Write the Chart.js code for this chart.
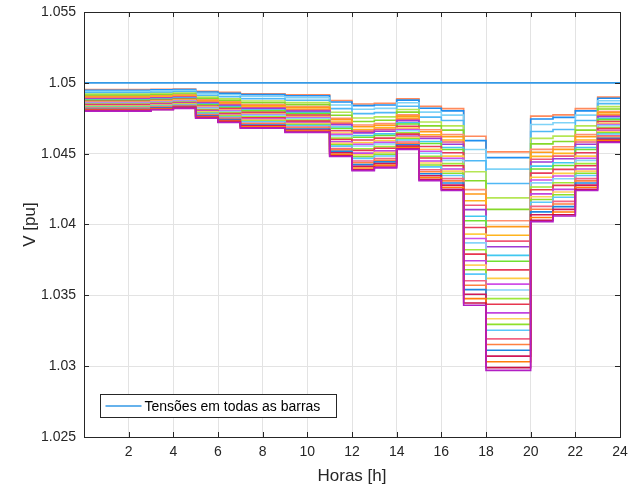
<!DOCTYPE html>
<html>
<head>
<meta charset="utf-8">
<script src="https://cdn.jsdelivr.net/npm/chart.js@4.4.1/dist/chart.umd.min.js"></script>
<style>
  html, body { margin: 0; padding: 0; background: #ffffff; }
  #wrap { width: 639px; height: 490px; }
</style>
</head>
<body>
<div id="wrap"><canvas id="c" width="639" height="490"></canvas></div>
<script>
// ---- Data ----
const hours = [0,1,2,3,4,5,6,7,8,9,10,11,12,13,14,15,16,17,18,19,20,21,22,23,24];
const xTicks = [2,4,6,8,10,12,14,16,18,20,22,24];
const yTicks = [1.025,1.03,1.035,1.04,1.045,1.05,1.055];
const legendLabel = 'Tensões em todas as barras';

const busSlack = [1.05,1.05,1.05,1.05,1.05,1.05,1.05,1.05,1.05,1.05,1.05,1.05,1.05,1.05,1.05,1.05,1.05,1.05,1.05,1.05,1.05,1.05,1.05,1.05,1.05];
const bus02 = [1.04952,1.04952,1.04952,1.04954,1.04957,1.04940,1.04933,1.04923,1.04923,1.04916,1.04916,1.04875,1.04851,1.04856,1.04887,1.04834,1.04818,1.04623,1.04513,1.04513,1.04765,1.04774,1.04818,1.04899,1.04899];
const bus03 = [1.04948,1.04948,1.04948,1.04951,1.04953,1.04935,1.04927,1.04917,1.04917,1.04909,1.04909,1.04865,1.04839,1.04844,1.04878,1.04821,1.04802,1.04592,1.04472,1.04472,1.04745,1.04756,1.04802,1.04891,1.04891];
const bus04 = [1.04940,1.04940,1.04940,1.04943,1.04946,1.04925,1.04916,1.04904,1.04904,1.04895,1.04895,1.04844,1.04814,1.04820,1.04859,1.04793,1.04772,1.04529,1.04391,1.04391,1.04706,1.04718,1.04772,1.04874,1.04874];
const bus05 = [1.04930,1.04930,1.04930,1.04933,1.04937,1.04912,1.04902,1.04888,1.04888,1.04877,1.04877,1.04818,1.04783,1.04790,1.04835,1.04758,1.04734,1.04450,1.04289,1.04289,1.04657,1.04671,1.04734,1.04853,1.04853];
const bus06 = [1.04920,1.04920,1.04920,1.04924,1.04928,1.04900,1.04888,1.04872,1.04872,1.04860,1.04860,1.04792,1.04752,1.04760,1.04812,1.04724,1.04696,1.04372,1.04188,1.04188,1.04608,1.04624,1.04696,1.04832,1.04832];
const bus07 = [1.04912,1.04912,1.04912,1.04916,1.04921,1.04890,1.04877,1.04859,1.04859,1.04846,1.04846,1.04771,1.04727,1.04736,1.04793,1.04696,1.04666,1.04309,1.04107,1.04107,1.04569,1.04586,1.04666,1.04815,1.04815];
const bus08 = [1.04904,1.04904,1.04904,1.04909,1.04914,1.04880,1.04866,1.04846,1.04846,1.04832,1.04832,1.04750,1.04702,1.04712,1.04774,1.04669,1.04635,1.04246,1.04026,1.04026,1.04530,1.04549,1.04635,1.04798,1.04798];
const bus09 = [1.04900,1.04900,1.04900,1.04905,1.04910,1.04875,1.04860,1.04840,1.04840,1.04825,1.04825,1.04740,1.04690,1.04700,1.04765,1.04655,1.04620,1.04215,1.03985,1.03985,1.04510,1.04530,1.04620,1.04790,1.04790];
const bus10 = [1.04894,1.04894,1.04894,1.04899,1.04905,1.04867,1.04852,1.04830,1.04830,1.04814,1.04814,1.04724,1.04671,1.04682,1.04751,1.04634,1.04597,1.04168,1.03924,1.03924,1.04481,1.04502,1.04597,1.04777,1.04777];
const bus11 = [1.04890,1.04890,1.04890,1.04895,1.04901,1.04862,1.04846,1.04824,1.04824,1.04807,1.04807,1.04714,1.04659,1.04670,1.04741,1.04620,1.04582,1.04136,1.03883,1.03883,1.04461,1.04483,1.04582,1.04769,1.04769];
const bus12 = [1.04886,1.04886,1.04886,1.04892,1.04897,1.04857,1.04840,1.04818,1.04818,1.04800,1.04800,1.04704,1.04647,1.04658,1.04732,1.04607,1.04567,1.04105,1.03843,1.03843,1.04441,1.04464,1.04567,1.04761,1.04761];
const bus13 = [1.04880,1.04880,1.04880,1.04886,1.04892,1.04850,1.04832,1.04808,1.04808,1.04790,1.04790,1.04688,1.04628,1.04640,1.04718,1.04586,1.04544,1.04058,1.03782,1.03782,1.04412,1.04436,1.04544,1.04748,1.04748];
const bus14 = [1.04876,1.04876,1.04876,1.04882,1.04888,1.04845,1.04826,1.04802,1.04802,1.04783,1.04783,1.04678,1.04616,1.04628,1.04709,1.04572,1.04529,1.04027,1.03741,1.03741,1.04392,1.04417,1.04529,1.04740,1.04740];
const bus15 = [1.04870,1.04870,1.04870,1.04876,1.04883,1.04837,1.04818,1.04792,1.04792,1.04772,1.04772,1.04662,1.04597,1.04610,1.04694,1.04551,1.04506,1.03979,1.03680,1.03680,1.04363,1.04389,1.04506,1.04727,1.04727];
const bus16 = [1.04864,1.04864,1.04864,1.04871,1.04878,1.04830,1.04810,1.04782,1.04782,1.04762,1.04762,1.04646,1.04578,1.04592,1.04680,1.04531,1.04483,1.03932,1.03620,1.03620,1.04334,1.04361,1.04483,1.04714,1.04714];
const bus17 = [1.04860,1.04860,1.04860,1.04867,1.04874,1.04825,1.04804,1.04776,1.04776,1.04755,1.04755,1.04636,1.04566,1.04580,1.04671,1.04517,1.04468,1.03901,1.03579,1.03579,1.04314,1.04342,1.04468,1.04706,1.04706];
const bus18 = [1.04856,1.04856,1.04856,1.04863,1.04870,1.04820,1.04798,1.04770,1.04770,1.04748,1.04748,1.04626,1.04554,1.04568,1.04662,1.04503,1.04453,1.03870,1.03538,1.03538,1.04294,1.04323,1.04453,1.04698,1.04698];
const bus19 = [1.04850,1.04850,1.04850,1.04857,1.04865,1.04812,1.04790,1.04760,1.04760,1.04737,1.04737,1.04610,1.04535,1.04550,1.04647,1.04482,1.04430,1.03822,1.03477,1.03477,1.04265,1.04295,1.04430,1.04685,1.04685];
const bus20 = [1.04846,1.04846,1.04846,1.04854,1.04861,1.04807,1.04784,1.04754,1.04754,1.04730,1.04730,1.04600,1.04523,1.04538,1.04638,1.04469,1.04415,1.03791,1.03437,1.03437,1.04245,1.04276,1.04415,1.04677,1.04677];
const bus21 = [1.04840,1.04840,1.04840,1.04848,1.04856,1.04800,1.04776,1.04744,1.04744,1.04720,1.04720,1.04584,1.04504,1.04520,1.04624,1.04448,1.04392,1.03744,1.03376,1.03376,1.04216,1.04248,1.04392,1.04664,1.04664];
const bus22 = [1.04836,1.04836,1.04836,1.04844,1.04852,1.04795,1.04770,1.04738,1.04738,1.04713,1.04713,1.04574,1.04492,1.04508,1.04615,1.04434,1.04377,1.03713,1.03335,1.03335,1.04196,1.04229,1.04377,1.04656,1.04656];
const bus23 = [1.04832,1.04832,1.04832,1.04840,1.04849,1.04790,1.04765,1.04731,1.04731,1.04706,1.04706,1.04563,1.04479,1.04496,1.04605,1.04420,1.04362,1.03681,1.03295,1.03295,1.04177,1.04210,1.04362,1.04647,1.04647];
const bus24 = [1.04828,1.04828,1.04828,1.04837,1.04845,1.04785,1.04759,1.04725,1.04725,1.04699,1.04699,1.04553,1.04467,1.04484,1.04596,1.04407,1.04346,1.03650,1.03254,1.03254,1.04157,1.04192,1.04346,1.04639,1.04639];
const bus25 = [1.04822,1.04822,1.04822,1.04831,1.04840,1.04777,1.04751,1.04715,1.04715,1.04688,1.04688,1.04537,1.04448,1.04466,1.04582,1.04386,1.04324,1.03603,1.03193,1.03193,1.04128,1.04163,1.04324,1.04626,1.04626];
const bus26 = [1.04818,1.04818,1.04818,1.04827,1.04836,1.04772,1.04745,1.04709,1.04709,1.04681,1.04681,1.04527,1.04436,1.04454,1.04572,1.04372,1.04308,1.03571,1.03153,1.03153,1.04108,1.04145,1.04308,1.04618,1.04618];
const bus27 = [1.04814,1.04814,1.04814,1.04823,1.04833,1.04767,1.04740,1.04702,1.04702,1.04674,1.04674,1.04516,1.04423,1.04442,1.04563,1.04358,1.04293,1.03540,1.03112,1.03112,1.04089,1.04126,1.04293,1.04609,1.04609];
const bus28 = [1.04810,1.04810,1.04810,1.04819,1.04829,1.04762,1.04734,1.04696,1.04696,1.04667,1.04667,1.04506,1.04411,1.04430,1.04553,1.04344,1.04278,1.03508,1.03071,1.03071,1.04069,1.04107,1.04278,1.04601,1.04601];
const bus29 = [1.04806,1.04806,1.04806,1.04816,1.04825,1.04757,1.04728,1.04690,1.04690,1.04660,1.04660,1.04496,1.04399,1.04418,1.04544,1.04331,1.04263,1.03477,1.03031,1.03031,1.04049,1.04088,1.04263,1.04593,1.04593];
const bus30 = [1.04802,1.04802,1.04802,1.04812,1.04822,1.04752,1.04723,1.04683,1.04683,1.04653,1.04653,1.04485,1.04386,1.04406,1.04535,1.04317,1.04248,1.03446,1.02990,1.02990,1.04030,1.04069,1.04248,1.04584,1.04584];
const bus31 = [1.04800,1.04800,1.04800,1.04810,1.04820,1.04750,1.04720,1.04680,1.04680,1.04650,1.04650,1.04480,1.04380,1.04400,1.04530,1.04310,1.04240,1.03430,1.02970,1.02970,1.04020,1.04060,1.04240,1.04580,1.04580];

const busSeries = [busSlack, bus02, bus03, bus04, bus05, bus06, bus07, bus08, bus09, bus10,
                   bus11, bus12, bus13, bus14, bus15, bus16, bus17, bus18, bus19, bus20,
                   bus21, bus22, bus23, bus24, bus25, bus26, bus27, bus28, bus29, bus30, bus31];
const busColors = ['#3399e6',
  '#ff8a5c', '#1f8ff0', '#7fd3f7', '#4fb8f5', '#b5e655', '#86d82a', '#ff8f70', '#ff9a1a',
  '#ffb41e', '#f05a78', '#9d3bd6', '#40c8f0', '#6fe030', '#e83c5a', '#ffcc44', '#d04ee8',
  '#86d4fa', '#9ee83a', '#e8364f', '#c244e0', '#ffd060', '#8ee02a', '#5ac8fa', '#f26485',
  '#ff8040', '#1e86e0', '#d01858', '#ff7d0a', '#c8104a', '#b21fc4'];

// ---- Chart ----
const FONT = '"Liberation Sans", Arial, Helvetica, sans-serif';
const TXT = '#262626';

const datasets = busSeries.map((s, i) => ({
  label: i === 0 ? legendLabel : 'Barra ' + (i + 1),
  data: hours.map((h, k) => ({ x: h, y: s[k] })),
  borderColor: busColors[i],
  borderWidth: 1.6,
  pointRadius: 0,
  stepped: true,
  fill: false,
  order: busSeries.length - i
}));

const frameAndLegend = {
  id: 'frameAndLegend',
  afterDatasetsDraw(chart) {
    const { ctx, chartArea: a, scales } = chart;
    ctx.save();
    ctx.strokeStyle = TXT;
    ctx.lineWidth = 1;
    ctx.strokeRect(Math.round(a.left) + 0.5, Math.round(a.top) + 0.5,
                   Math.round(a.right - a.left), Math.round(a.bottom - a.top));
    const tl = 5;
    ctx.beginPath();
    xTicks.forEach(v => {
      const px = Math.round(scales.x.getPixelForValue(v)) + 0.5;
      ctx.moveTo(px, a.bottom); ctx.lineTo(px, a.bottom - tl);
      ctx.moveTo(px, a.top); ctx.lineTo(px, a.top + tl);
    });
    yTicks.forEach(v => {
      const py = Math.round(scales.y.getPixelForValue(v)) + 0.5;
      ctx.moveTo(a.left, py); ctx.lineTo(a.left + tl, py);
      ctx.moveTo(a.right, py); ctx.lineTo(a.right - tl, py);
    });
    ctx.stroke();
    // legend box
    const lx = Math.round(a.left) + 16.5, ly = Math.round(a.bottom) - 42.5, lw = 236, lh = 23;
    ctx.fillStyle = '#ffffff';
    ctx.fillRect(lx, ly, lw, lh);
    ctx.strokeStyle = TXT;
    ctx.strokeRect(lx, ly, lw, lh);
    ctx.strokeStyle = busColors[0];
    ctx.lineWidth = 1.6;
    ctx.beginPath();
    ctx.moveTo(lx + 5, ly + lh / 2);
    ctx.lineTo(lx + 41, ly + lh / 2);
    ctx.stroke();
    ctx.fillStyle = '#000000';
    ctx.font = '14px ' + FONT;
    ctx.textBaseline = 'middle';
    ctx.textAlign = 'left';
    ctx.fillText(legendLabel, lx + 44, ly + lh / 2 + 1);
    ctx.restore();
  }
};

new Chart(document.getElementById('c'), {
  type: 'line',
  data: { datasets },
  options: {
    responsive: false,
    animation: false,
    devicePixelRatio: 1,
    layout: { padding: { left: 0, right: 19, top: 12, bottom: 0 } },
    plugins: { legend: { display: false }, tooltip: { enabled: false } },
    scales: {
      x: {
        type: 'linear',
        min: 0, max: 24,
        afterBuildTicks: (s) => { s.ticks = xTicks.map(v => ({ value: v })); },
        afterFit: (s) => { s.height = 53; s.paddingLeft = 0; s.paddingRight = 0; },
        ticks: { color: TXT, font: { family: FONT, size: 14 }, padding: 7, maxRotation: 0,
                 callback: (v) => String(v) },
        grid: { color: '#e3e3e3', lineWidth: 1, drawTicks: false },
        border: { display: false },
        title: { display: true, text: 'Horas [h]', color: TXT,
                 font: { family: FONT, size: 17 }, padding: { top: 0, bottom: 3 } }
      },
      y: {
        type: 'linear',
        min: 1.025, max: 1.055,
        afterBuildTicks: (s) => { s.ticks = yTicks.map(v => ({ value: v })); },
        afterFit: (s) => { s.width = 84; s.paddingTop = 0; s.paddingBottom = 0; },
        ticks: { color: TXT, font: { family: FONT, size: 14 }, padding: 8,
                 callback: (v) => String(Number(v.toFixed(3))) },
        grid: { color: '#e3e3e3', lineWidth: 1, drawTicks: false },
        border: { display: false },
        title: { display: true, text: 'V [pu]', color: TXT,
                 font: { family: FONT, size: 17 }, padding: { top: 20, bottom: 0 } }
      }
    }
  },
  plugins: [frameAndLegend]
});
</script>
</body>
</html>
